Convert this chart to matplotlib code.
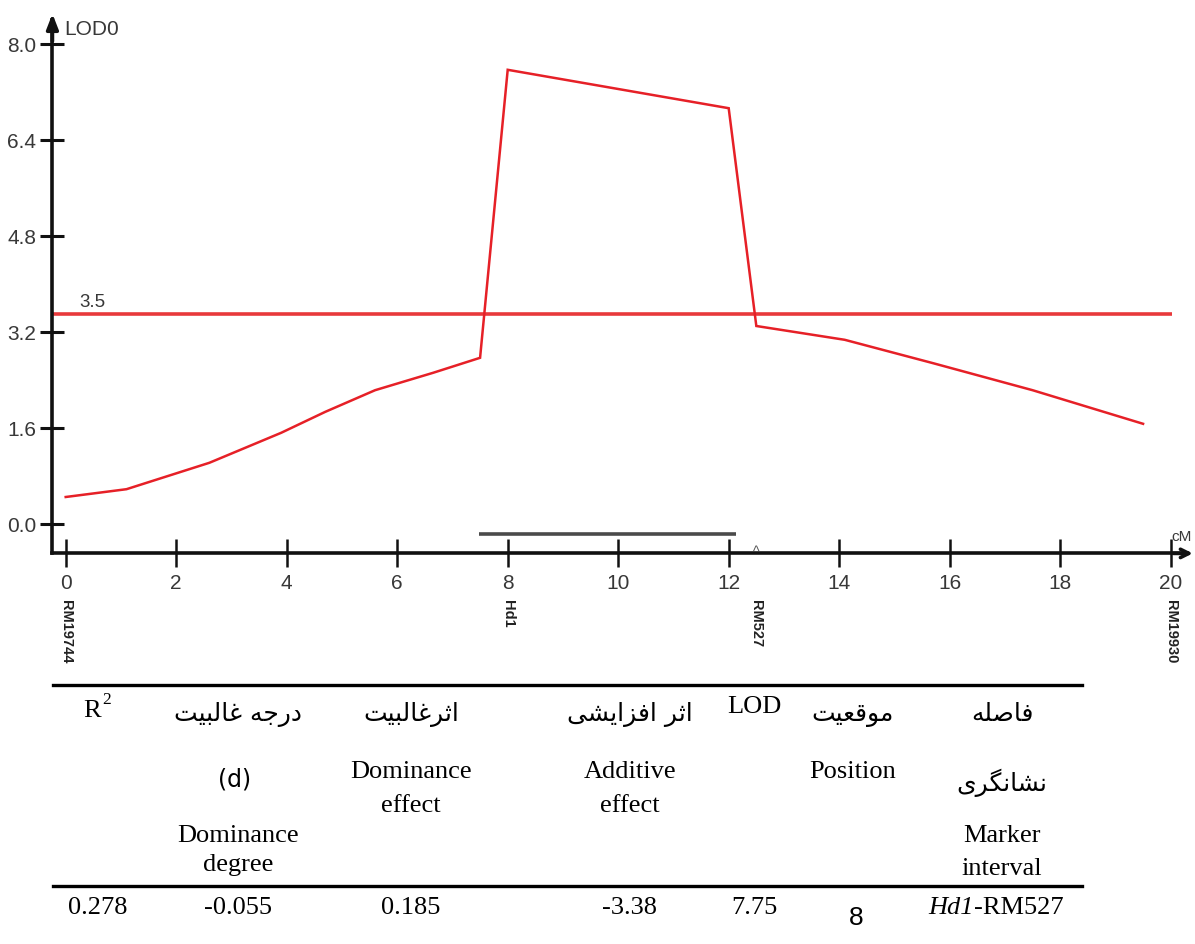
import matplotlib
matplotlib.use("Agg")
import matplotlib.pyplot as plt
from matplotlib.lines import Line2D

# ---------------- data ----------------
pos_cM = [0.0, 1.1, 2.6, 3.9, 4.7, 5.6, 6.65, 7.5, 8.0, 12.0, 12.5, 14.1, 15.7, 17.5, 19.5]
lod = [0.45, 0.58, 1.02, 1.52, 1.87, 2.23, 2.52, 2.77, 7.57, 6.93, 3.30, 3.07, 2.68, 2.23, 1.67]
threshold = 3.5
ci_start, ci_end = 7.48, 12.13
marker_pos = [0.0, 8.0, 12.5, 20.0]
marker_names = ["RM19744", "Hd1", "RM527", "RM19930"]
yticks = [0.0, 1.6, 3.2, 4.8, 6.4, 8.0]
xticks = list(range(0, 21, 2))

hdr_fa = ["", "درجه غالبیت", "اثرغالبیت", "اثر افزایشی", "", "موقعیت", "فاصله"]
hdr_fa2 = ["", "", "", "", "", "", "نشانگری"]
hdr_en_lines = [
    [],
    [("Dominance", 842), ("degree", 871)],
    [("Dominance", 778), ("effect", 812)],
    [("Additive", 778), ("effect", 812)],
    [("LOD", 713)],
    [("Position", 778)],
    [("Marker", 842), ("interval", 875)],
]
row_vals = ["0.278", "-0.055", "0.185", "-3.38", "7.75", "8", "Hd1-RM527"]

# ---------------- Persian shaping (presentation forms) ----------------
FORMS = {
    'ا': ('\uFE8D', '\uFE8E', None, None),
    'ب': ('\uFE8F', '\uFE90', '\uFE91', '\uFE92'),
    'ت': ('\uFE95', '\uFE96', '\uFE97', '\uFE98'),
    'ث': ('\uFE99', '\uFE9A', '\uFE9B', '\uFE9C'),
    'ج': ('\uFE9D', '\uFE9E', '\uFE9F', '\uFEA0'),
    'د': ('\uFEA9', '\uFEAA', None, None),
    'ر': ('\uFEAD', '\uFEAE', None, None),
    'ز': ('\uFEAF', '\uFEB0', None, None),
    'ش': ('\uFEB5', '\uFEB6', '\uFEB7', '\uFEB8'),
    'ص': ('\uFEB9', '\uFEBA', '\uFEBB', '\uFEBC'),
    'ع': ('\uFEC9', '\uFECA', '\uFECB', '\uFECC'),
    'غ': ('\uFECD', '\uFECE', '\uFECF', '\uFED0'),
    'ف': ('\uFED1', '\uFED2', '\uFED3', '\uFED4'),
    'ق': ('\uFED5', '\uFED6', '\uFED7', '\uFED8'),
    'ل': ('\uFEDD', '\uFEDE', '\uFEDF', '\uFEE0'),
    'م': ('\uFEE1', '\uFEE2', '\uFEE3', '\uFEE4'),
    'ن': ('\uFEE5', '\uFEE6', '\uFEE7', '\uFEE8'),
    'ه': ('\uFEE9', '\uFEEA', '\uFEEB', '\uFEEC'),
    'و': ('\uFEED', '\uFEEE', None, None),
    'ی': ('\uFBFC', '\uFBFD', '\uFBFE', '\uFBFF'),
    'گ': ('\uFB92', '\uFB93', '\uFB94', '\uFB95'),
}


def shape(s):
    out = []
    n = len(s)
    for i, ch in enumerate(s):
        if ch not in FORMS:
            out.append(ch)
            continue
        f = FORMS[ch]
        prev = s[i - 1] if i > 0 else None
        nxt = s[i + 1] if i < n - 1 else None
        jp = prev in FORMS and FORMS[prev][2] is not None
        jn = f[2] is not None and nxt in FORMS
        if jp and jn:
            out.append(f[3])
        elif jp:
            out.append(f[1])
        elif jn:
            out.append(f[2])
        else:
            out.append(f[0])
    return "".join(out)[::-1]


# ---------------- figure ----------------
W, H = 1195, 944
fig = plt.figure(figsize=(W / 100, H / 100), dpi=100)
fig.patch.set_facecolor("white")

CH_TOP, CH_BOT = 0, 700  # chart region in pixels
ax = fig.add_axes([0, (H - CH_BOT) / H, 1, (CH_BOT - CH_TOP) / H])
px_per_cm = 55.25
x0_px = 65.7
px_per_lod = 60.0
y0_px = 524.0
ax.set_xlim(-x0_px / px_per_cm, (W - x0_px) / px_per_cm)
ax.set_ylim((y0_px - CH_BOT) / px_per_lod, y0_px / px_per_lod)
ax.patch.set_alpha(0)

axis_x = -0.24
axis_y = -0.49
for s in ["top", "right"]:
    ax.spines[s].set_visible(False)
ax.spines["left"].set_position(("data", axis_x))
ax.spines["bottom"].set_position(("data", axis_y))
ax.spines["left"].set_bounds(axis_y, 8.4)
ax.spines["bottom"].set_bounds(axis_x, 20.3)
for s in ["left", "bottom"]:
    ax.spines[s].set_linewidth(2.6)
    ax.spines[s].set_color("#111111")

sans = ["Liberation Sans", "DejaVu Sans"]
tick_font = dict(family=sans, size=15)
ax.set_yticks(yticks)
ax.set_yticklabels([f"{v:.1f}" for v in yticks], fontdict=tick_font, color="#383838")
ax.set_xticks(xticks)
ax.set_xticklabels([str(v) for v in xticks], fontdict=tick_font, color="#383838")
ax.tick_params(axis="y", direction="inout", length=17, width=2.2, color="#111111", pad=3)
ax.tick_params(axis="x", direction="inout", length=20, width=1.8, color="#111111", pad=5)

# arrows at axis ends
ax.annotate("", xy=(axis_x, 8.55), xytext=(axis_x, 8.0),
            arrowprops=dict(arrowstyle="-|>,head_width=0.35,head_length=0.9", lw=2.6, color="#111111"),
            annotation_clip=False)
ax.annotate("", xy=(20.45, axis_y), xytext=(20.0, axis_y),
            arrowprops=dict(arrowstyle="->,head_width=0.3,head_length=0.6", lw=2.6, color="#111111"),
            annotation_clip=False)

ax.text(axis_x + 0.22, 8.24, "LOD0", ha="left", va="center", color="#383838",
        fontfamily=sans, fontsize=15)
ax.text(20.19, -0.22, "cM", ha="center", va="center", color="#383838", fontfamily=sans, fontsize=11)

# threshold
ax.plot([axis_x, 20.02], [threshold, threshold], color="#e8393b", lw=2.6, solid_capstyle="butt")
ax.text(0.25, threshold + 0.05, f"{threshold}", ha="left", va="bottom", color="#383838",
        fontfamily=sans, fontsize=13.5)

# LOD curve
ax.plot(pos_cM, lod, color="#e62027", lw=1.8, solid_joinstyle="miter")

# support interval bar
ax.plot([ci_start, ci_end], [-0.17, -0.17], color="#4a4a4a", lw=2.6, solid_capstyle="butt")
ax.text(12.5, axis_y - 0.1, "^", ha="center", va="bottom", color="#555555",
        fontfamily=sans, fontsize=10)

# marker names
for p, name in zip(marker_pos, marker_names):
    ax.text(p, (y0_px - 600) / px_per_lod, name, rotation=-90, ha="center", va="top",
            fontfamily="Liberation Sans", fontweight="bold", fontsize=10.5, color="#222222")

# ---------------- table ----------------
tab = fig.add_axes([0, 0, 1, 1])
tab.set_xlim(0, W)
tab.set_ylim(H, 0)
tab.axis("off")
tab.patch.set_alpha(0)

rule_x0, rule_x1 = 53, 1082
tab.add_line(Line2D([rule_x0, rule_x1], [685, 685], color="black", lw=2.4))
tab.add_line(Line2D([rule_x0, rule_x1], [886, 886], color="black", lw=2.4))

col_x = [98, 238, 411, 630, 754, 853, 1002]
serif = "Liberation Serif"
fs = 19
fa_fs = 18

for i, cx in enumerate(col_x):
    if hdr_fa[i]:
        tab.text(cx, 721, shape(hdr_fa[i]), ha="center", va="baseline", fontfamily="DejaVu Sans",
                 fontsize=fa_fs, color="black")
    if hdr_fa2[i]:
        tab.text(cx, 791, shape(hdr_fa2[i]), ha="center", va="baseline", fontfamily="DejaVu Sans",
                 fontsize=fa_fs, color="black")
    for txt, base in hdr_en_lines[i]:
        tab.text(cx, base, txt, ha="center", va="baseline", fontfamily=serif, fontsize=fs, color="black")

# R^2 header and (d)
tab.text(92, 717, "R", ha="center", va="baseline", fontfamily=serif, fontsize=fs)
tab.text(107, 704, "2", ha="center", va="baseline", fontfamily=serif, fontsize=12.5)
tab.text(col_x[1] - 3, 786, "(d)", ha="center", va="baseline", fontfamily="DejaVu Sans", fontsize=17)

# values row
for i, cx in enumerate(col_x):
    v = row_vals[i]
    if i == 5:
        tab.text(cx + 3, 925, v, ha="center", va="baseline", fontfamily=sans,
                 fontsize=19, color="black")
    elif i == 6:
        g, rest = v.split("-", 1)
        tab.text(974, 914, g, ha="right", va="baseline", fontfamily=serif, fontstyle="italic", fontsize=fs)
        tab.text(974, 914, "-" + rest, ha="left", va="baseline", fontfamily=serif, fontsize=fs)
    else:
        tab.text(cx, 914, v, ha="center", va="baseline", fontfamily=serif, fontsize=fs, color="black")

fig.savefig("out.png", dpi=100, facecolor="white")
